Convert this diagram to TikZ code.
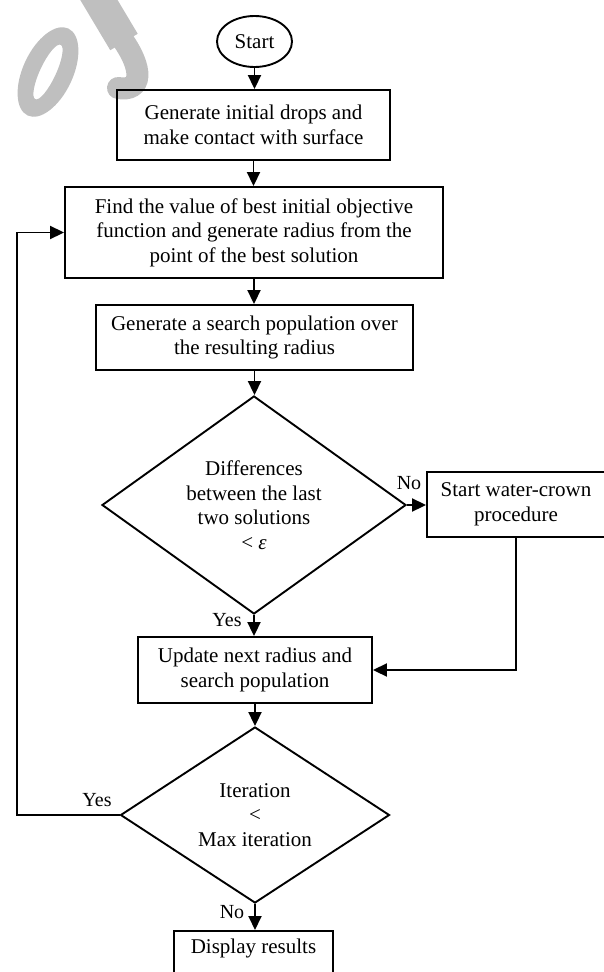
\documentclass[tikz,border=0pt]{standalone}
\usepackage{fontspec}
\setmainfont{Liberation Serif}
\usetikzlibrary{shapes.geometric, arrows.meta}
\begin{document}
\begin{tikzpicture}[x=1pt, y=-1pt,
  txt/.style={font=\fontsize{21}{24.5}\selectfont},
  box/.style={draw, line width=1.9pt, inner sep=0pt, align=center, txt},
  dia/.style={draw, diamond, line width=1.9pt, inner sep=0pt, align=center, txt},
  lbl/.style={font=\fontsize{20}{24}\selectfont, inner sep=0pt},
  arr/.style={line width=1.9pt, -{Triangle[length=14pt, width=13pt]}},
  wmfill/.style={fill=black!25},
  wmline/.style={draw=black!25, line cap=round}]
\useasboundingbox (0,0) rectangle (603,972);
% watermark
\fill[wmfill, even odd rule, rotate around={65:(48,72)}] (48,72) ellipse [x radius=48, y radius=25] (48,72) ellipse [x radius=30, y radius=8];
\draw[wmline, line width=32pt, line cap=butt] (84,-25) -- (124,42);
\draw[wmline, line width=22pt] (120,36) .. controls (145,70) and (142,92) .. (118,88);
% nodes
\node[box, ellipse, minimum width=75pt, minimum height=51pt] (start) at (254.5,41.5) {Start};
\node[box, minimum width=273pt, minimum height=70pt] (gen) at (253.5,125) {Generate initial drops and\\make contact with surface};
\node[box, minimum width=378pt, minimum height=91pt] (find) at (254,232.5) {Find the value of best initial objective\\function and generate radius from the\\point of the best solution};
\node[box, minimum width=317pt, minimum height=65pt] (pop) at (254.5,337.5) {Generate a search population over\\the resulting radius};
\node[dia, minimum width=304pt, minimum height=218pt, aspect=1.4] (diff) at (254,505) {Differences\\between the last\\two solutions\\< \textit{ε}};
\node[box, minimum width=178pt, minimum height=65pt] (crown) at (516,504.5) {Start water-crown\\procedure};
\node[box, minimum width=234pt, minimum height=66pt] (upd) at (255,670) {Update next radius and\\search population};
\node[dia, minimum width=269pt, minimum height=176pt, aspect=1.5] (iter) at (255,815) {Iteration\\<\\Max iteration};
\node[box, minimum width=159pt, anchor=north, text height=23pt, text depth=40pt] (disp) at (253.5,930) {Display results};
\coordinate (loopc) at (17,815);
% connectors
\draw[arr] (start.south) -- (start.south |- gen.north);
\draw[arr] (gen.south) -- (gen.south |- find.north);
\draw[arr] (find.south) -- (find.south |- pop.north);
\draw[arr] (pop.south) -- (pop.south |- diff.north);
\draw[arr] (diff.east) -- (diff.east -| crown.west);
\draw[arr] (diff.south) -- (diff.south |- upd.north);
\draw[arr] (crown.south) |- (upd.east);
\draw[arr] (upd.south) -- (upd.south |- iter.north);
\draw[arr] (iter.south) -- (iter.south |- disp.north);
\draw[arr] (iter.west) -- (loopc) |- (find.west);
% labels
\node[lbl] (no1) at (409,483) {No};
\node[lbl] (yes1) at (227,620) {Yes};
\node[lbl] (yes2) at (97,800) {Yes};
\node[lbl] (no2) at (232,912) {No};
\end{tikzpicture}
\end{document}
